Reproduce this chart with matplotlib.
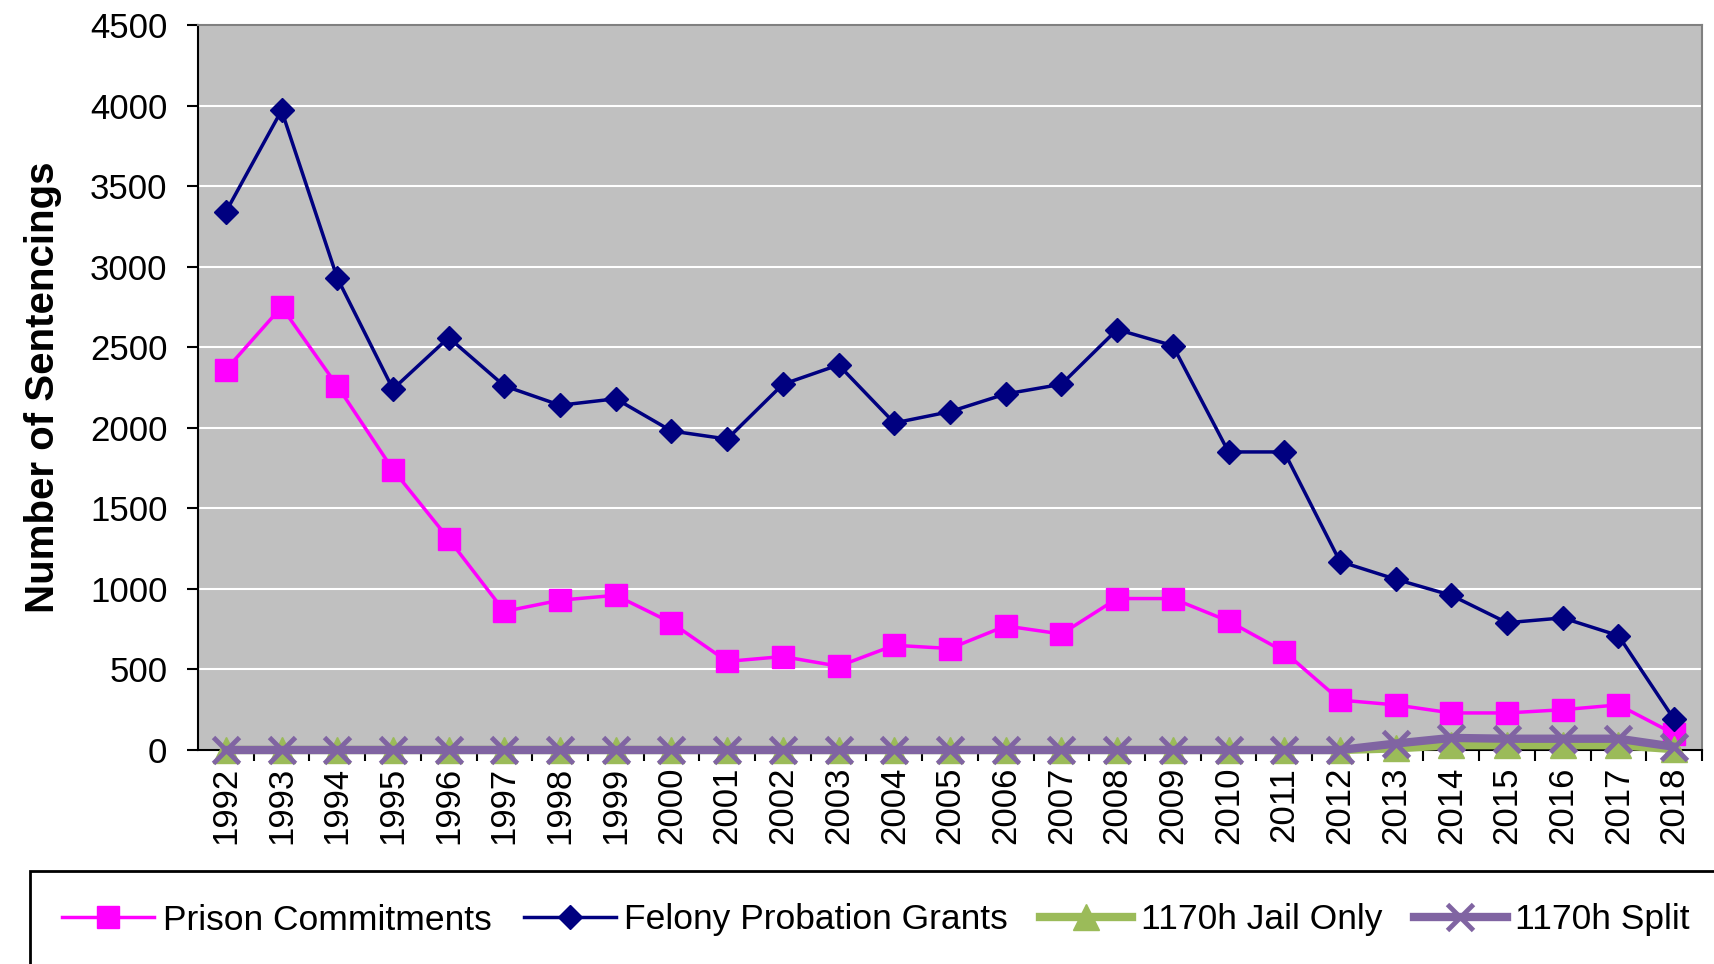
import matplotlib
matplotlib.use("Agg")
import matplotlib.pyplot as plt
from matplotlib.patches import Rectangle

years = [str(y) for y in range(1992, 2019)]

prison = [2360, 2750, 2260, 1740, 1310, 860, 930, 960, 790, 550,
          580, 520, 650, 630, 770, 720, 940, 940, 800, 610,
          310, 280, 230, 230, 250, 280, 100]
felony = [3340, 3970, 2930, 2240, 2560, 2260, 2140, 2180, 1980, 1930,
          2270, 2390, 2030, 2100, 2210, 2270, 2610, 2510, 1850, 1850,
          1170, 1060, 960, 790, 820, 710, 190]
jail_only = [0] * 21 + [10, 30, 30, 30, 30, 5]
split = [0] * 21 + [40, 75, 70, 70, 70, 20]

plt.rcParams['font.family'] = ['Liberation Sans', 'DejaVu Sans']

fig = plt.figure(figsize=(17.14, 9.64), dpi=100)
ax = fig.add_axes([198 / 1714, 1 - 750 / 964, (1702 - 198) / 1714, (750 - 25) / 964])
ax.set_facecolor('#C0C0C0')

x = list(range(len(years)))
ax.plot(x, prison, color='#FF00FF', lw=2.5, marker='s', ms=16,
        label='Prison Commitments', zorder=3)
ax.plot(x, felony, color='#000080', lw=2.5, marker='D', ms=12,
        label='Felony Probation Grants', zorder=4)
ax.plot(x, jail_only, color='#9BBB59', lw=6, marker='^', ms=19,
        label='1170h Jail Only', zorder=5, clip_on=False)
ax.plot(x, split, color='#8064A2', lw=6, marker='x', ms=19, mew=3.5,
        label='1170h Split', zorder=6, clip_on=False)

ax.set_xlim(-0.5, len(years) - 0.5)
ax.set_ylim(0, 4500)
ax.set_yticks(range(0, 4501, 500))
ax.yaxis.grid(True, color='white', lw=1.5)
ax.set_axisbelow(True)

ax.set_xticks(x)
ax.set_xticklabels(years, rotation=90)
ax.set_xticks([i - 0.5 for i in range(1, len(years) + 1)], minor=True)
ax.tick_params(axis='x', which='major', length=0, pad=12, labelsize=25)
ax.tick_params(axis='x', which='minor', length=8, width=1.5, direction='out')
ax.tick_params(axis='y', length=8, width=1.5, direction='out', labelsize=25, pad=14)

for s in ['left', 'bottom']:
    ax.spines[s].set_color('black')
    ax.spines[s].set_linewidth(1.5)
for s in ['top', 'right']:
    ax.spines[s].set_color('#808080')
    ax.spines[s].set_linewidth(1.5)

ax.set_ylabel('Number of Sentencings', fontsize=29, fontweight='bold', labelpad=20)

# legend box runs off the bottom/right edge like the original
fig.patches.append(Rectangle((30 / 1714, -0.2), 1.2, 0.2 + (1 - 871 / 964),
                             transform=fig.transFigure, fill=False,
                             edgecolor='black', lw=2, clip_on=False))
fig.legend(loc='center left', bbox_to_anchor=(62 / 1714, 1 - 920 / 964),
           ncol=4, frameon=False, fontsize=25.5, handlelength=2.6,
           handletextpad=0.25, columnspacing=0.9, borderpad=0, borderaxespad=0)

fig.savefig('out.png', dpi=100)
